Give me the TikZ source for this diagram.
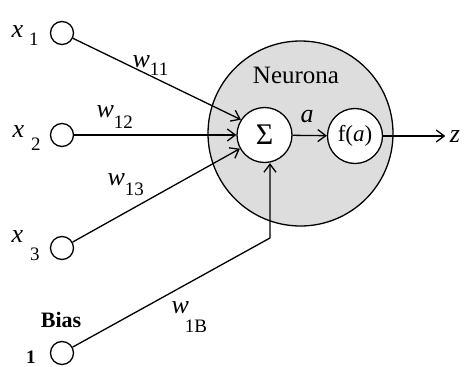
\documentclass[tikz,border=0pt]{standalone}
\usepackage{fontspec}
\setmainfont{Liberation Serif}
\usetikzlibrary{arrows.meta}
\definecolor{neurofill}{RGB}{221,221,221}
\newcommand\idx[2]{\raisebox{#1}{\fontsize{19}{19}\selectfont #2}}
\begin{document}
\begin{tikzpicture}[x=1pt,y=-1pt,line width=1.3pt,
  font=\fontsize{22}{26}\selectfont,
  inp/.style={draw,circle,minimum size=23pt,inner sep=0pt},
  unit/.style={draw,circle,minimum size=55pt,inner sep=0pt,fill=white},
  body/.style={draw,circle,minimum size=185pt,inner sep=0pt,fill=neurofill},
  arr/.style={-{Straight Barb[length=8pt,width=12pt]}},
  lbl/.style={inner sep=0pt},
  var/.style={inner sep=0pt,font=\fontsize{26}{28}\selectfont}]
\useasboundingbox (0,0) rectangle (464,367);
% neuron body
\node[body] (neuron) at (300.5,133.5) {};
\node[lbl,anchor=base] (nlabel) at (296,83) {\fontsize{25}{25}\selectfont Neurona};
\node[unit] (sigma) at (264.5,135) {\fontsize{30}{30}\selectfont Σ};
\node[unit] (f) at (355,136) {\fontsize{23}{23}\selectfont f(\textit{a})};
% inputs
\node[inp] (x1) at (62,33) {};
\node[inp] (x2) at (62,135) {};
\node[inp] (x3) at (62,248) {};
\node[inp] (b) at (62,353) {};
\node[var,anchor=base west] (lx1) at (11,37) {\textit{x}\hspace{6pt}\idx{-8pt}{1}};
\node[var,anchor=base west] (lx2) at (12,137) {\textit{x}\hspace{7pt}\idx{-13pt}{2}};
\node[var,anchor=base west] (lx3) at (11,242) {\textit{x}\hspace{7pt}\idx{-18pt}{3}};
\node[lbl,anchor=base] (lbias) at (61,327) {\fontsize{22}{22}\selectfont\bfseries Bias};
\node[lbl,anchor=base] (lone) at (31,363) {\fontsize{19}{19}\selectfont\bfseries 1};
% weights
\node[var,anchor=base west] (w11) at (132,67) {\textit{w}\idx{-8pt}{11}};
\node[var,anchor=base west] (w12) at (96,117) {\textit{w}\idx{-11pt}{12}};
\node[var,anchor=base west] (w13) at (107,185) {\textit{w}\idx{-10pt}{13}};
\node[var,anchor=base west] (w1b) at (171,313) {\textit{w}\hspace{-4pt}\idx{-19pt}{1B}};
\node[var,anchor=base] (la) at (307,122) {\textit{a}};
\node[var,anchor=base] (zl) at (455,142) {\textit{z}};
\coordinate (bend) at (270,238);
% connectors
\draw[arr] (x1) -- (sigma.147);
\draw[arr] (x2) -- (sigma.west);
\draw[arr] (x3) -- (sigma.209);
\draw[arr] (b) -- (bend) -- (bend |- sigma.south);
\draw[arr] (sigma) -- (f);
\draw[arr,shorten >=4pt] (f.east) -- (zl.west |- f.east);
\end{tikzpicture}
\end{document}
